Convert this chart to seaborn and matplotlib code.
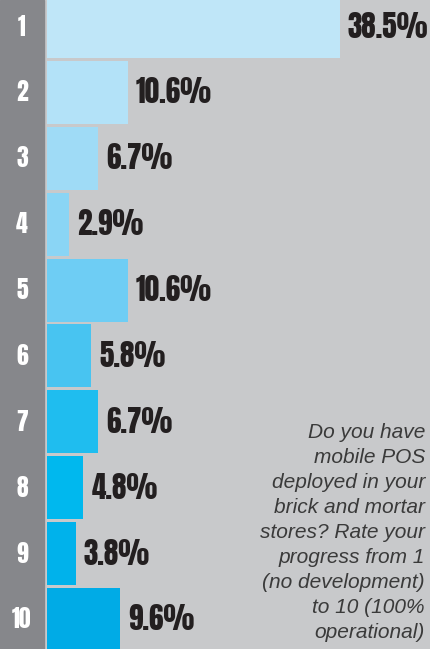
import matplotlib
matplotlib.use("Agg")
import matplotlib.pyplot as plt
import seaborn as sns
import pandas as pd

ratings = ["1", "2", "3", "4", "5", "6", "7", "8", "9", "10"]
values = [38.5, 10.6, 6.7, 2.9, 10.6, 5.8, 6.7, 4.8, 3.8, 9.6]
bar_colors = ["#bfe6f8", "#b3e2f8", "#9fdbf6", "#8ad5f5", "#6ecdf4",
              "#48c4f1", "#1fbdef", "#00b8ee", "#00b2eb", "#00abe6"]
question = ("Do you have\nmobile POS\ndeployed in your\nbrick and mortar\n"
            "stores? Rate your\nprogress from 1\n(no development)\nto 10 (100%\noperational)")

df = pd.DataFrame({"rating": ratings, "value": values})

sns.set_style("white")
plt.rcParams["font.family"] = ["DejaVu Sans"]

fig = plt.figure(figsize=(4.30, 6.49), dpi=100)
fig.patch.set_facecolor("#c8c9cb")
ax = fig.add_axes([0, 0, 1, 1])
ax.set_facecolor("#c8c9cb")

sns.barplot(data=df, x="value", y="rating", hue="rating", order=ratings,
            hue_order=ratings, palette=bar_colors, orient="h", width=0.955,
            legend=False, ax=ax, saturation=1, linewidth=0)

px = 7.6  # pixels per percent
xl = -47 / px
ax.set_xlim(xl, (430 - 47) / px)
ax.set_ylim(9.45, -0.404)
ax.axvspan(xl, -3 / px, color="#86878b", zorder=0)

cond = ["Anton", "Oswald", "DejaVu Sans"]
for i, (r, v) in enumerate(zip(ratings, values)):
    ax.text(xl + 22 / px, i, r, color="white", fontsize=17,
            family=cond, ha="center", va="center")
    ax.text(v + 8 / px, i, f"{v}%", color="#231f20", fontsize=21,
            family=cond, ha="left", va="center")

fig.text(425 / 430, 1 - 423 / 649, question, ha="right", va="top",
         fontsize=15, style="italic", color="#3a3a3a",
         family=["Liberation Sans", "DejaVu Sans"], linespacing=1.4)

ax.set_xlabel("")
ax.set_ylabel("")
ax.set_xticks([])
ax.set_yticks([])
for s in ax.spines.values():
    s.set_visible(False)

fig.savefig("out.png", dpi=100, facecolor=fig.get_facecolor())
